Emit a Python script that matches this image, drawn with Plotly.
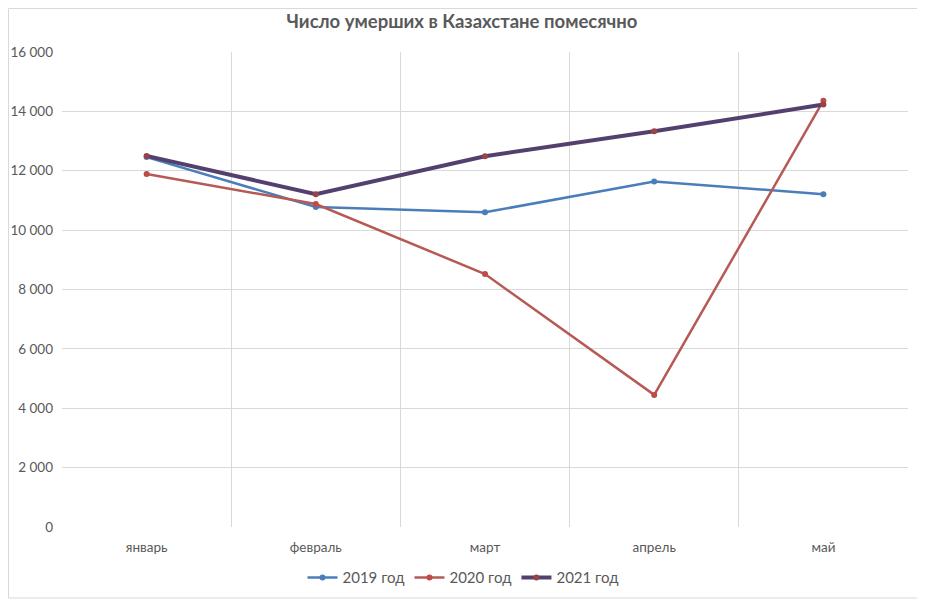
import plotly.graph_objects as go

months = ["январь", "февраль", "март", "апрель", "май"]
deaths_2019 = [12460, 10780, 10600, 11640, 11210]
deaths_2020 = [11890, 10880, 8520, 4450, 14360]
deaths_2021 = [12500, 11210, 12490, 13330, 14230]
series_names = ["2019 год", "2020 год", "2021 год"]
y_tick_values = [0, 2000, 4000, 6000, 8000, 10000, 12000, 14000, 16000]
y_tick_labels = ["0", "2 000", "4 000", "6 000", "8 000", "10 000", "12 000", "14 000", "16 000"]
title_text = "Число умерших в Казахстане помесячно"

# The page adds an 8px body margin, so the figure is sized/positioned to compensate.
W, H = 917, 595
L, T = 54, 44
PW, PH = 846, 475

fig = go.Figure()
fig.add_trace(go.Scatter(
    x=months, y=deaths_2019, name=series_names[0], mode="lines+markers",
    line=dict(color="#4A7EBB", width=2.5),
    marker=dict(color="#4A7EBB", size=6),
))
fig.add_trace(go.Scatter(
    x=months, y=deaths_2020, name=series_names[1], mode="lines+markers",
    line=dict(color="#B65A55", width=2.5),
    marker=dict(color="#BE4B48", size=6),
))
fig.add_trace(go.Scatter(
    x=months, y=deaths_2021, name=series_names[2], mode="lines+markers",
    line=dict(color="#54406F", width=4),
    marker=dict(color="#9A4345", size=6),
))

fig.update_layout(
    width=W, height=H,
    margin=dict(l=L, r=W - L - PW, t=T, b=H - T - PH, autoexpand=False),
    paper_bgcolor="white", plot_bgcolor="white",
    font=dict(family="Lato, Open Sans, sans-serif", color="#595959", size=13.5),
    title=dict(text="<b>" + title_text + "</b>", x=454 / W, xref="container", xanchor="center",
               y=1 - 14 / H, yref="container", yanchor="middle",
               font=dict(size=18.5, color="#595959")),
    showlegend=True,
    legend=dict(orientation="h", x=(455 - L) / PW, xanchor="center", y=-0.107, yanchor="middle",
                font=dict(size=15, color="#595959"), itemwidth=30, tracegroupgap=0),
    xaxis=dict(type="category", tickson="boundaries", range=[-0.5, 4.5],
               showgrid=True, gridcolor="#D9D9D9",
               gridwidth=1, ticks="", showline=False, zeroline=False,
               ticklabelstandoff=10, tickfont=dict(size=13.5, color="#595959")),
    yaxis=dict(range=[0, 16000], tickvals=y_tick_values, ticktext=y_tick_labels,
               showgrid=True, gridcolor="#D9D9D9", gridwidth=1, zeroline=False,
               showline=False, ticks="", ticklabelstandoff=8,
               tickfont=dict(size=13.5, color="#595959")),
    shapes=[dict(type="rect", xref="paper", yref="paper",
                 x0=(0.5 - L) / PW, x1=(912 - L) / PW,
                 y0=(T + PH - 590) / PH, y1=(T + PH - 0.5) / PH,
                 line=dict(color="#D9D9D9", width=1), fillcolor="rgba(0,0,0,0)",
                 layer="below")],
)

fig.write_html("out.html")
